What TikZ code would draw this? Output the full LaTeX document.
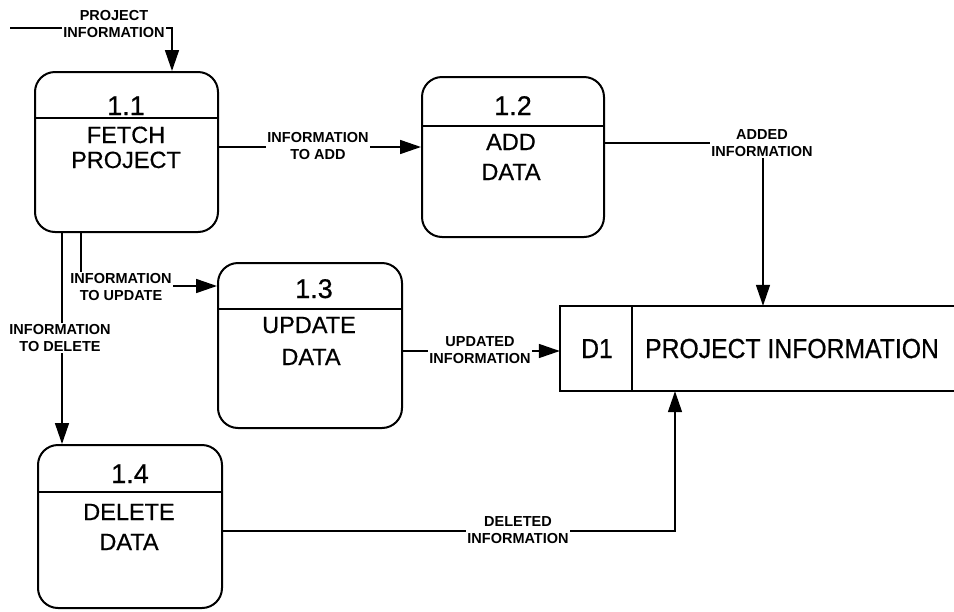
\documentclass[tikz,border=0pt]{standalone}
\usepackage{fontspec}
\setmainfont{Liberation Sans}
\newfontfamily\boxfont[FakeBold=0.6]{Liberation Sans}
\newfontfamily\narrowfont[FakeStretch=0.9, FakeBold=0.6]{Liberation Sans}
\usetikzlibrary{arrows.meta}

\tikzset{
  proc/.style={draw, line width=2pt, rounded corners=20pt, inner sep=0pt},
  boxline/.style={line width=2pt},
  flow/.style={line width=1.6pt, -{Triangle[length=21pt,width=14pt]}},
  numtxt/.style={anchor=base, inner sep=0pt, font=\boxfont\fontsize{27}{30}\selectfont},
  nametxt/.style={anchor=base, inner sep=0pt, font=\boxfont\fontsize{23.5}{28}\selectfont},
  storetxt/.style={anchor=base, inner sep=0pt, font=\narrowfont\fontsize{27.5}{30}\selectfont},
  lbl/.style={fill=white, inner sep=1.5pt, align=center,
              font=\fontsize{14.5}{17.5}\selectfont\bfseries}
}

\begin{document}
\begin{tikzpicture}[x=1pt, y=-1pt]
\useasboundingbox (0,0) rectangle (954,611);

% processes
\node[proc, minimum width=183pt, minimum height=160pt] (p11) at (126.5,152) {};
\node[proc, minimum width=182pt, minimum height=160pt] (p12) at (513,157) {};
\node[proc, minimum width=184pt, minimum height=165pt] (p13) at (310,345.5) {};
\node[proc, minimum width=184pt, minimum height=163pt] (p14) at (130,526.5) {};

% header dividers
\draw[boxline] (p11.west |- 0,118) -- (p11.east |- 0,118);
\draw[boxline] (p12.west |- 0,126) -- (p12.east |- 0,126);
\draw[boxline] (p13.west |- 0,309) -- (p13.east |- 0,309);
\draw[boxline] (p14.west |- 0,492) -- (p14.east |- 0,492);

% process numbers and names
\node[numtxt] (n11) at (126,115) {1.1};
\node[nametxt] (t11a) at (126,143) {FETCH};
\node[nametxt] (t11b) at (126,168) {PROJECT};

\node[numtxt] (n12) at (513,115) {1.2};
\node[nametxt] (t12a) at (511,150) {ADD};
\node[nametxt] (t12b) at (511,180) {DATA};

\node[numtxt] (n13) at (314,298) {1.3};
\node[nametxt] (t13a) at (309,333) {UPDATE};
\node[nametxt] (t13b) at (311,365) {DATA};

\node[numtxt] (n14) at (130,483) {1.4};
\node[nametxt] (t14a) at (129,520) {DELETE};
\node[nametxt] (t14b) at (129,550) {DATA};

% data store, open on its right side
\node[minimum width=394pt, minimum height=85pt, inner sep=0pt] (d1) at (757,348.5) {};
\draw[boxline] (d1.north east) -- (d1.north west) -- (d1.south west) -- (d1.south east);
\draw[boxline] (632,0 |- d1.north) -- (632,0 |- d1.south);
\node[storetxt] (d1id) at (597,358) {D1};
\node[storetxt] (d1name) at (792,358) {PROJECT INFORMATION};

% bend points of the flows
\coordinate (src) at (10,28);
\coordinate (inx) at (172,28);
\coordinate (addy) at (318,147);
\coordinate (addx) at (763,143);
\coordinate (updx) at (81,286);
\coordinate (delv) at (62,0);
\coordinate (delx) at (675,531);

% flows
\draw[flow] (src) -- (inx) -- (inx |- p11.north);
\draw[flow] (p11.east |- addy) -- (p12.west |- addy);
\draw[flow] (p12.east |- addx) -- (addx) -- (addx |- d1.north);
\draw[flow] (updx |- p11.south) -- (updx) -- (p13.west |- updx);
\draw[flow] (delv |- p11.south) -- (delv |- p14.north);
\draw[flow] (p13.east |- 0,351) -- (d1.west |- 0,351);
\draw[flow] (p14.east |- delx) -- (delx) -- (delx |- d1.south);

% flow labels
\node[lbl] (lin)  at (114,24)  {PROJECT\\INFORMATION};
\node[lbl] (ladd) at (318,146) {INFORMATION\\TO ADD};
\node[lbl] (ladded) at (762,143) {ADDED\\INFORMATION};
\node[lbl] (lupd) at (121,287) {INFORMATION\\TO UPDATE};
\node[lbl] (ldel) at (60,338)  {INFORMATION\\TO DELETE};
\node[lbl] (lupdated) at (480,350) {UPDATED\\INFORMATION};
\node[lbl] (ldeleted) at (518,530) {DELETED\\INFORMATION};
\end{tikzpicture}
\end{document}
